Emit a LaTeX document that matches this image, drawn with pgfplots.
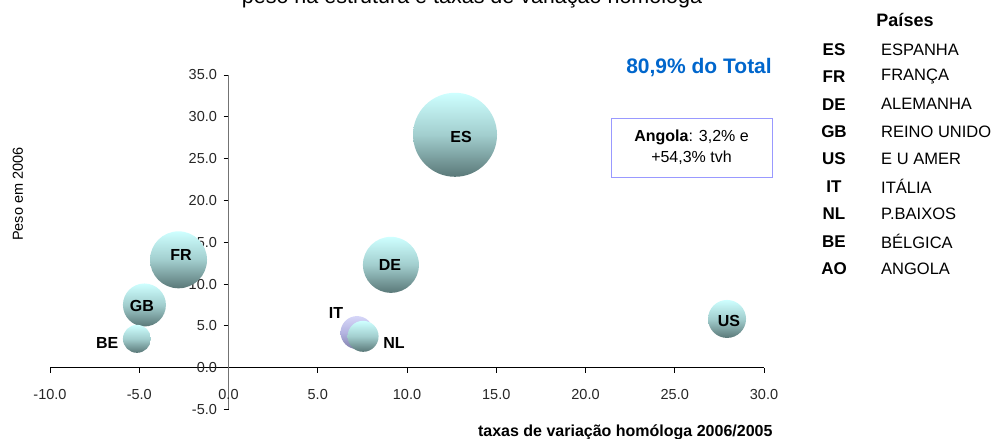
\documentclass[border=0pt]{standalone}
\usepackage{pgfplots}
\pgfplotsset{compat=1.18}
\usepackage{fontspec}
\setmainfont{Liberation Sans}

\definecolor{tealtop}{RGB}{206,255,255}
\definecolor{tealmid}{RGB}{162,206,206}
\definecolor{tealbot}{RGB}{90,120,120}
\definecolor{ittop}{RGB}{214,214,248}
\definecolor{itmid}{RGB}{180,180,225}
\definecolor{itbot}{RGB}{128,128,170}
\definecolor{totblue}{RGB}{0,102,204}
\definecolor{boxline}{RGB}{153,153,255}

\pgfdeclareverticalshading{tealshade}{100bp}{color(0bp)=(tealbot); color(25bp)=(tealbot); color(50bp)=(tealmid); color(75bp)=(tealtop); color(100bp)=(tealtop)}
\pgfdeclareverticalshading{itshade}{100bp}{color(0bp)=(itbot); color(25bp)=(itbot); color(50bp)=(itmid); color(75bp)=(ittop); color(100bp)=(ittop)}
\pgfdeclareplotmark{tealball}{\pgfpathcircle{\pgfpointorigin}{\pgfplotmarksize}\pgfshadepath{tealshade}{0}\pgfusepath{}}
\pgfdeclareplotmark{itball}{\pgfpathcircle{\pgfpointorigin}{\pgfplotmarksize}\pgfshadepath{itshade}{0}\pgfusepath{}}

% x = taxa de variacao, y = peso, r = raio da bolha (pt)
\pgfplotstableread{
x      y      r
12.69  27.85  42
-2.80  12.90  28.5
9.10   12.30  28
-4.71  7.50   21.5
27.93  5.83   19
7.54   3.75   15.5
-5.13  3.45   14
}\paises
\pgfplotstableread{
x      y      r
7.20   4.20   16.5
}\italia

\begin{document}
\begin{tikzpicture}
\useasboundingbox (0,0) rectangle (999pt,439pt);

\begin{axis}[
    at={(50pt,29.5pt)}, anchor=south west,
    scale only axis, width=714pt, height=334.5pt,
    xmin=-10, xmax=30, ymin=-5, ymax=35,
    axis lines=middle,
    x axis line style={-, black, line width=0.8pt},
    y axis line style={-, black!55, line width=1.4pt},
    xtick={-10,-5,...,30},
    ytick={-5,0,...,35},
    tick align=outside,
    major tick length=5pt,
    tick style={black, line width=0.8pt},
    hide obscured x ticks=false,
    hide obscured y ticks=false,
    /pgf/number format/fixed,
    /pgf/number format/fixed zerofill,
    /pgf/number format/precision=1,
    /pgf/number format/assume math mode=true,
    ticklabel style={font=\fontsize{14.5}{16}\selectfont, text=black!85},
    xticklabel style={yshift=-13pt},
    yticklabel style={xshift=-3pt},
    clip=false,
]
\addplot[scatter, only marks, mark=itball,
    visualization depends on={\thisrow{r}\as\rad},
    scatter/@pre marker code/.append style={/tikz/mark size=\rad}]
    table[x=x, y=y] {\italia};
\addplot[scatter, only marks, mark=tealball,
    visualization depends on={\thisrow{r}\as\rad},
    scatter/@pre marker code/.append style={/tikz/mark size=\rad}]
    table[x=x, y=y] {\paises};

\coordinate (lES) at (axis cs:13.03,27.6);
\coordinate (lFR) at (axis cs:-2.66,13.5);
\coordinate (lDE) at (axis cs:9.05,12.3);
\coordinate (lGB) at (axis cs:-4.85,7.4);
\coordinate (lBE) at (axis cs:-6.8,2.95);
\coordinate (lIT) at (axis cs:6.02,6.55);
\coordinate (lNL) at (axis cs:9.27,2.95);
\coordinate (lUS) at (axis cs:28.04,5.59);
\end{axis}

% rotulos das bolhas, por cima
\foreach \c in {ES,FR,DE,GB,BE,IT,NL,US}
  \node[font=\bfseries\fontsize{16}{16}\selectfont] at (l\c) {\c};

% titulo (cortado no topo, como no original)
\node[anchor=base, font=\fontsize{21.5}{21.5}\selectfont] at (472pt,435.5pt)
    {peso na estrutura e taxas de variação homóloga};

% eixos
\node[rotate=90, font=\fontsize{14.5}{14.5}\selectfont] at (18pt,245pt) {Peso em 2006};
\node[anchor=east, font=\bfseries\fontsize{16}{16}\selectfont] at (776pt,7pt)
    {taxas de variação homóloga 2006/2005};

% anotacoes
\node[font=\bfseries\fontsize{21}{21}\selectfont, text=totblue] at (699pt,371pt) {80,9\% do Total};
\node[draw=boxline, line width=0.8pt, minimum width=161pt, minimum height=59pt,
      align=center, inner sep=0pt, font=\fontsize{16}{21}\selectfont] at (691.5pt,291.5pt)
    {\textbf{Angola}: 3,2\% e\\+54,3\% tvh};

% legenda
\node[font=\bfseries\fontsize{18}{18}\selectfont] at (905pt,419pt) {Países};
\foreach \c/\n [count=\i from 0] in {ES/ESPANHA, FR/FRANÇA, DE/ALEMANHA, GB/REINO UNIDO,
    US/E U AMER, IT/ITÁLIA, NL/P.BAIXOS, BE/BÉLGICA, AO/ANGOLA} {
  \node[font=\bfseries\fontsize{17}{17}\selectfont] at (834pt,{(389.5-27.4*\i)*1pt}) {\c};
  \node[anchor=west, inner sep=0pt, font=\fontsize{16.5}{16.5}\selectfont] at (881pt,{(389.5-27.4*\i)*1pt}) {\n};
}
\end{tikzpicture}
\end{document}
